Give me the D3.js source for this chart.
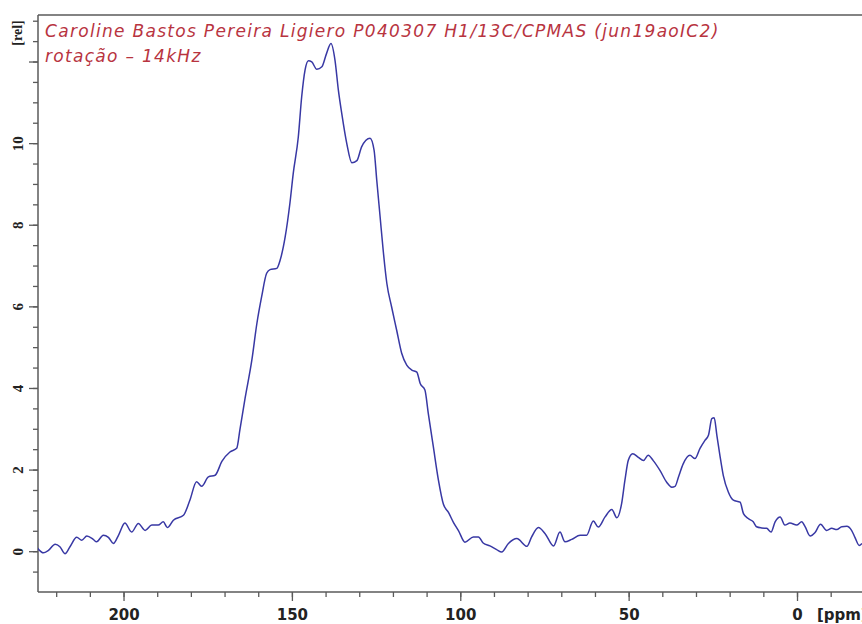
<!DOCTYPE html>
<html>
<head>
<meta charset="utf-8">
<script src="https://cdn.jsdelivr.net/npm/d3@7"></script>
<style>
body { margin: 0; background: #fff; }
</style>
</head>
<body>
<svg id="svg_nmr" width="862" height="624"></svg>
<script>
var width = 862
var height = 624

// spectrum, ppm goes from left (high) to right (low)
var ppm = [225.8, 223.8, 222.3, 220.3, 218.9, 217.4, 215.9, 213.9, 212.4, 210.9, 209.0, 208.0, 206.0, 204.5, 203.0, 201.5,
  199.6, 197.6, 195.6, 193.6, 191.6, 189.7, 188.2, 187.0, 185.2, 182.2, 180.3, 178.3, 176.8, 174.8, 172.8, 170.8,
  168.4, 166.4, 165.4, 163.9, 161.9, 160.4, 159.0, 157.5, 156.5, 154.5, 153.5, 152.0, 150.6, 149.6, 148.1, 147.1,
  146.1, 145.1, 144.1, 142.6, 141.1, 139.7, 138.4, 137.2, 136.2, 135.2, 133.7, 132.2, 130.7, 129.3, 126.8, 125.6,
  124.8, 123.8, 122.9, 121.8, 120.4, 118.9, 117.4, 115.9, 114.4, 112.9, 111.9, 110.5, 109.5, 108.0, 106.5, 105.0,
  103.5, 102.0, 100.5, 98.6, 96.1, 94.6, 93.2, 91.2, 89.2, 87.7, 85.7, 83.2, 80.2, 78.8, 76.8, 74.8,
  72.3, 70.4, 68.9, 66.9, 64.4, 62.5, 60.5, 59.0, 57.0, 55.0, 53.5, 52.1, 51.1, 50.1, 48.8, 47.1,
  45.6, 44.2, 42.7, 40.7, 38.7, 37.2, 36.2, 35.2, 33.8, 31.8, 30.3, 28.8, 27.3, 26.3, 25.3, 24.6,
  23.8, 22.9, 21.9, 20.4, 18.9, 16.9, 15.9, 14.5, 13.0, 12.0, 10.5, 9.0, 7.7, 6.5, 5.0, 3.6,
  2.1, 0.1, -1.4, -2.4, -3.9, -5.3, -7.0, -8.8, -10.3, -11.8, -13.3, -14.8, -16.2, -17.2, -18.5, -19.3]

var intensity = [0.10, -0.04, 0.02, 0.17, 0.11, -0.06, 0.11, 0.34, 0.27, 0.37, 0.29, 0.23, 0.39, 0.34, 0.19, 0.39,
  0.69, 0.47, 0.68, 0.51, 0.64, 0.64, 0.72, 0.58, 0.76, 0.88, 1.25, 1.70, 1.59, 1.82, 1.86, 2.20,
  2.43, 2.52, 3.00, 3.75, 4.68, 5.58, 6.23, 6.81, 6.90, 6.93, 7.13, 7.70, 8.52, 9.26, 10.15, 11.13,
  11.79, 12.02, 11.99, 11.81, 11.87, 12.20, 12.44, 12.03, 11.30, 10.73, 9.99, 9.52, 9.57, 9.91, 10.12, 9.83,
  9.09, 8.19, 7.38, 6.56, 5.99, 5.42, 4.85, 4.56, 4.44, 4.39, 4.11, 3.95, 3.38, 2.56, 1.75, 1.15,
  0.95, 0.70, 0.50, 0.22, 0.35, 0.35, 0.20, 0.13, 0.04, -0.02, 0.19, 0.31, 0.12, 0.35, 0.58, 0.43,
  0.13, 0.47, 0.23, 0.29, 0.39, 0.39, 0.74, 0.59, 0.84, 1.02, 0.82, 1.16, 1.74, 2.23, 2.39, 2.30,
  2.22, 2.35, 2.22, 1.98, 1.69, 1.57, 1.59, 1.82, 2.14, 2.35, 2.27, 2.52, 2.72, 2.84, 3.25, 3.27,
  2.84, 2.35, 1.86, 1.45, 1.25, 1.20, 0.92, 0.80, 0.72, 0.60, 0.57, 0.56, 0.47, 0.72, 0.84, 0.64,
  0.69, 0.64, 0.72, 0.60, 0.37, 0.45, 0.66, 0.51, 0.56, 0.53, 0.60, 0.61, 0.51, 0.34, 0.14, 0.19]

var xMajor = [200, 150, 100, 50, 0]
var yMajor = [0, 2, 4, 6, 8, 10]

var title1 = "Caroline Bastos Pereira Ligiero P040307 H1/13C/CPMAS (jun19aoIC2)"
var title2 = "rotação – 14kHz"

// plot box (note: "top" is taken by window, so use other names)
var boxLeft = 38, boxRight = 862, boxTop = 15, boxBottom = 592
var axisColor = "#5a5a5a"

var x = d3.scaleLinear().domain([225.4, -19.3]).range([boxLeft, boxRight])
var y = d3.scaleLinear().domain([-1.0, 13.14]).range([boxBottom, boxTop])

var svg = d3.select("#svg_nmr")

svg.append("defs").append("clipPath")
    .attr("id", "plotclip")
  .append("rect")
    .attr("x", boxLeft)
    .attr("y", boxTop)
    .attr("width", boxRight - boxLeft)
    .attr("height", boxBottom - boxTop)

// x axis: minor ticks every 10 ppm, long ones every 50
var xMinor = d3.range(220, -20, -10)
svg.append("g")
    .attr("transform", "translate(0," + boxBottom + ")")
    .call(d3.axisBottom(x).tickValues(xMinor).tickSize(5).tickFormat(""))
    .call(g => g.select(".domain").remove())
    .selectAll("line").attr("stroke", axisColor).attr("stroke-width", 1.3)

var gx = svg.append("g")
    .attr("transform", "translate(0," + boxBottom + ")")
    .call(d3.axisBottom(x).tickValues(xMajor).tickSize(9).tickPadding(8).tickFormat(d3.format("d")))
gx.select(".domain").remove()
gx.selectAll("line").attr("stroke", axisColor).attr("stroke-width", 1.3)
gx.selectAll("text")
    .attr("fill", "#222")
    .attr("font-family", "DejaVu Sans")
    .attr("font-weight", "bold")
    .attr("font-size", "15px")

// unit label runs off the right edge, as in the original
svg.append("text")
    .attr("x", 817)
    .attr("y", 620)
    .attr("fill", "#222")
    .attr("font-family", "DejaVu Sans")
    .attr("font-weight", "bold")
    .attr("font-size", "15px")
    .text("[ppm]")

// y axis, labels turned on their side
var yMinor = d3.range(-0.5, 13.01, 0.5)
svg.append("g")
    .attr("transform", "translate(" + boxLeft + ",0)")
    .call(d3.axisLeft(y).tickValues(yMinor).tickSize(5).tickFormat(""))
    .call(g => g.select(".domain").remove())
    .selectAll("line").attr("stroke", axisColor).attr("stroke-width", 1.3)

var gy = svg.append("g")
    .attr("transform", "translate(" + boxLeft + ",0)")
    .call(d3.axisLeft(y).tickValues(yMajor.concat([12])).tickSize(9).tickFormat(d => d == 12 ? "" : d))
gy.select(".domain").remove()
gy.selectAll("line").attr("stroke", axisColor).attr("stroke-width", 1.3)
gy.selectAll("text")
    .attr("transform", "rotate(-90)")
    .attr("x", 0)
    .attr("y", -15)
    .attr("dy", 0)
    .attr("text-anchor", "middle")
    .attr("fill", "#222")
    .attr("font-family", "Liberation Serif")
    .attr("font-weight", "bold")
    .attr("font-size", "15px")

svg.append("text")
    .attr("transform", "translate(22,33) rotate(-90)")
    .attr("text-anchor", "middle")
    .attr("fill", "#222")
    .attr("font-family", "Liberation Serif")
    .attr("font-weight", "bold")
    .attr("font-size", "14px")
    .text("[rel]")

// frame lines
svg.append("line")
    .attr("x1", boxLeft).attr("x2", boxLeft)
    .attr("y1", boxTop).attr("y2", boxBottom)
    .attr("stroke", axisColor).attr("stroke-width", 1.5)
svg.append("line")
    .attr("x1", boxLeft).attr("x2", boxRight)
    .attr("y1", boxBottom).attr("y2", boxBottom)
    .attr("stroke", axisColor).attr("stroke-width", 1.5)
svg.append("line")
    .attr("x1", boxLeft).attr("x2", boxRight)
    .attr("y1", boxTop).attr("y2", boxTop)
    .attr("stroke", axisColor).attr("stroke-width", 1.5)

// the spectrum
var points = ppm.map((p, i) => [p, intensity[i]])
var line = d3.line()
    .x(d => x(d[0]))
    .y(d => y(d[1]))
    .curve(d3.curveMonotoneX)

svg.append("path")
    .datum(points)
    .attr("clip-path", "url(#plotclip)")
    .attr("fill", "none")
    .attr("stroke", "#3838a4")
    .attr("stroke-width", 1.5)
    .attr("d", line)

// title lines in red italic
svg.append("text")
    .attr("x", 45)
    .attr("y", 37)
    .attr("fill", "#b8343f")
    .attr("font-family", "DejaVu Sans")
    .attr("font-style", "italic")
    .attr("font-size", "17px")
    .attr("letter-spacing", "1.3px")
    .text(title1)

svg.append("text")
    .attr("x", 45)
    .attr("y", 62)
    .attr("fill", "#b8343f")
    .attr("font-family", "DejaVu Sans")
    .attr("font-style", "italic")
    .attr("font-size", "17px")
    .attr("letter-spacing", "1.3px")
    .text(title2)
</script>
</body>
</html>
